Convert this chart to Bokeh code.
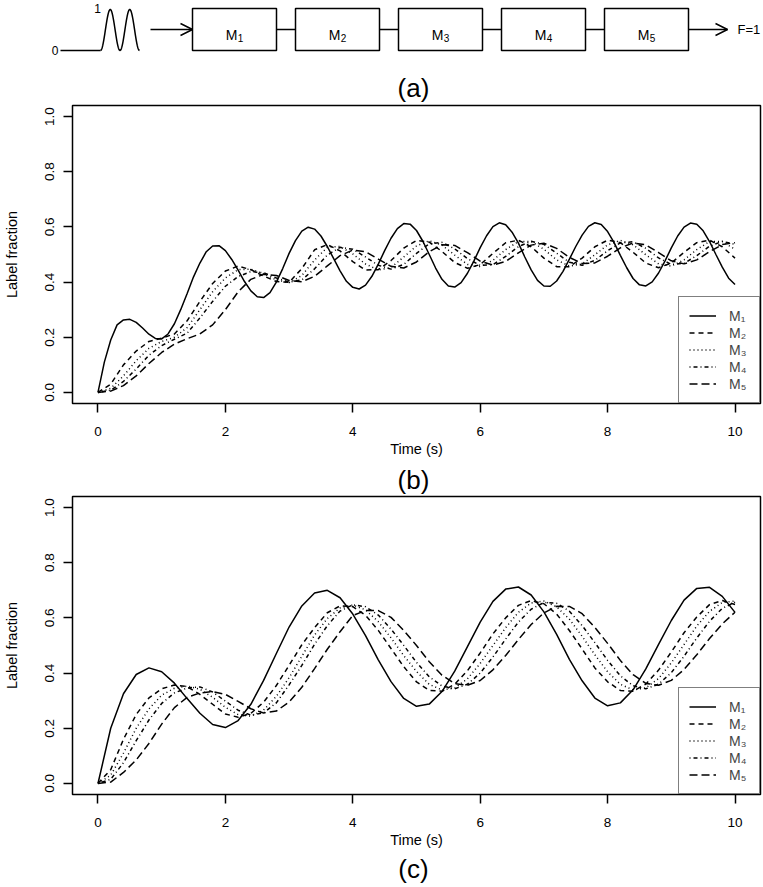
import numpy as np
from bokeh.plotting import figure
from bokeh.layouts import column
from bokeh.models import Range1d, FixedTicker, Legend, LegendItem, NumeralTickFormatter
from bokeh.embed import file_html
from bokeh.resources import INLINE
from bokeh.core.properties import value

FONT = "Liberation Sans"

# ---------------- data ----------------
time_fine = np.round(np.arange(0, 101) * 0.1, 1)   # sampling of M1 in panel (b)
time = np.round(np.arange(0, 51) * 0.2, 1)         # sampling of all other curves

b_M1 = [0, 0.11, 0.19, 0.245, 0.263, 0.265, 0.254, 0.2335, 0.211, 0.196,
        0.194, 0.212, 0.249, 0.301, 0.359, 0.419, 0.469, 0.51, 0.531, 0.532,
        0.514, 0.482, 0.443, 0.402, 0.368, 0.347, 0.344, 0.362, 0.40, 0.449,
        0.504, 0.55, 0.585, 0.599, 0.592, 0.567, 0.529, 0.485, 0.441, 0.403,
        0.381, 0.375, 0.389, 0.421, 0.465, 0.514, 0.559, 0.594, 0.612, 0.610,
        0.587, 0.548, 0.500, 0.451, 0.410, 0.386, 0.382, 0.398, 0.432, 0.476,
        0.525, 0.568, 0.601, 0.615, 0.608, 0.581, 0.541, 0.491, 0.444, 0.406,
        0.386, 0.385, 0.404, 0.439, 0.483, 0.529, 0.570, 0.602, 0.615, 0.609,
        0.583, 0.544, 0.497, 0.452, 0.413, 0.390, 0.386, 0.401, 0.433, 0.476,
        0.524, 0.567, 0.599, 0.614, 0.610, 0.586, 0.547, 0.500, 0.454, 0.414,
        0.391]
b_M2 = [0, 0.03, 0.10, 0.15, 0.185, 0.197, 0.212, 0.26, 0.33, 0.395,
        0.44, 0.458, 0.445, 0.422, 0.402, 0.399, 0.449, 0.517, 0.536, 0.513,
        0.474, 0.444, 0.445, 0.478, 0.523, 0.551, 0.545, 0.511, 0.471, 0.450,
        0.4635, 0.504, 0.5425, 0.552, 0.528, 0.487, 0.456, 0.456, 0.487, 0.528,
        0.552, 0.543, 0.508, 0.469, 0.452, 0.469, 0.508, 0.543, 0.552, 0.528,
        0.487]
b_M3 = [0, 0.015, 0.06, 0.115, 0.16, 0.185, 0.20, 0.235, 0.30, 0.365,
        0.415, 0.445, 0.447, 0.430, 0.408, 0.398, 0.424, 0.480, 0.526, 0.529,
        0.502, 0.4655, 0.444, 0.453, 0.491, 0.531, 0.55, 0.534, 0.498, 0.464,
        0.456, 0.479, 0.518, 0.547, 0.547, 0.519, 0.4805, 0.458, 0.466, 0.499,
        0.535, 0.551, 0.5355, 0.499, 0.466, 0.458, 0.4805, 0.518, 0.547, 0.547,
        0.519]
b_M4 = [0, 0.008, 0.04, 0.085, 0.135, 0.17, 0.193, 0.215, 0.27, 0.33,
        0.385, 0.42, 0.438, 0.434, 0.415, 0.400, 0.408, 0.448, 0.498, 0.526,
        0.519, 0.491, 0.461, 0.447, 0.464, 0.504, 0.539, 0.544, 0.5205, 0.485,
        0.4605, 0.4636, 0.493, 0.5285, 0.548, 0.537, 0.5045, 0.472, 0.461, 0.479,
        0.5135, 0.542, 0.546, 0.5225, 0.4875, 0.464, 0.468, 0.496, 0.530, 0.5477,
        0.537]
b_M5 = [0, 0.005, 0.025, 0.06, 0.105, 0.145, 0.175, 0.195, 0.212, 0.245,
        0.30, 0.365, 0.41, 0.428, 0.424, 0.406, 0.401, 0.421, 0.4585, 0.496,
        0.516, 0.51, 0.4835, 0.457, 0.451, 0.473, 0.51, 0.5355, 0.533, 0.5066,
        0.4756, 0.462, 0.475, 0.506, 0.534, 0.541, 0.522, 0.4896, 0.4673, 0.4696,
        0.4937, 0.524, 0.542, 0.535, 0.507, 0.477, 0.466, 0.4806, 0.51, 0.536,
        0.543]

c_M1 = [0, 0.20, 0.325, 0.395, 0.419, 0.405, 0.3635, 0.3075, 0.2545, 0.2135,
        0.2025, 0.228, 0.287, 0.3735, 0.471, 0.567, 0.6435, 0.690, 0.700, 0.673,
        0.614, 0.536, 0.448, 0.369, 0.308, 0.2795, 0.2876, 0.333, 0.407, 0.496,
        0.585, 0.660, 0.7044, 0.712, 0.683, 0.622, 0.540, 0.450, 0.372, 0.3096,
        0.2813, 0.292, 0.3395, 0.415, 0.504, 0.5906, 0.6646, 0.707, 0.711, 0.678,
        0.62]
c_M2 = [0, 0.05, 0.16, 0.25, 0.31, 0.343, 0.357, 0.351, 0.3225, 0.287,
        0.2518, 0.24, 0.254, 0.2944, 0.355, 0.428, 0.5027, 0.5648, 0.6188, 0.6436,
        0.6407, 0.6093, 0.555, 0.489, 0.4231, 0.3681, 0.3373, 0.3343, 0.3598, 0.4088,
        0.473, 0.5422, 0.6001, 0.6455, 0.663, 0.6514, 0.614, 0.5544, 0.4872, 0.4187,
        0.3684, 0.3373, 0.3343, 0.3601, 0.4108, 0.4763, 0.5462, 0.6034, 0.6481, 0.663,
        0.6488]
c_M3 = [0, 0.03, 0.11, 0.20, 0.27, 0.32, 0.345, 0.353, 0.3415, 0.3123,
        0.276, 0.2496, 0.2438, 0.266, 0.3157, 0.3832, 0.4608, 0.538, 0.5977, 0.636,
        0.6467, 0.6291, 0.5864, 0.5277, 0.4632, 0.406, 0.359, 0.3389, 0.3459, 0.3795,
        0.4352, 0.50, 0.5648, 0.6205, 0.6542, 0.661, 0.6403, 0.5953, 0.5334, 0.4663,
        0.4047, 0.3594, 0.339, 0.3461, 0.3804, 0.4371, 0.5036, 0.5706, 0.6238, 0.6558,
        0.661]
c_M4 = [0, 0.015, 0.075, 0.155, 0.23, 0.29, 0.328, 0.346, 0.35, 0.3315,
        0.2985, 0.2654, 0.2478, 0.2558, 0.2923, 0.3573, 0.4278, 0.5044, 0.5718, 0.6247,
        0.6472, 0.6407, 0.6102, 0.5596, 0.5004, 0.4388, 0.3866, 0.3534, 0.343, 0.3594,
        0.40, 0.4583, 0.5235, 0.5849, 0.6315, 0.6558, 0.653, 0.6243, 0.5723, 0.5103,
        0.446, 0.3903, 0.354, 0.343, 0.36, 0.4016, 0.4611, 0.5273, 0.5878, 0.6347,
        0.6567]
c_M5 = [0, 0.005, 0.04, 0.085, 0.145, 0.215, 0.275, 0.312, 0.328, 0.333,
        0.3229, 0.2975, 0.2708, 0.2556, 0.2625, 0.2951, 0.3488, 0.4163, 0.4864, 0.5501,
        0.6089, 0.6266, 0.6267, 0.602, 0.5547, 0.4999, 0.4413, 0.3921, 0.3622, 0.3559,
        0.373, 0.4118, 0.4638, 0.5218, 0.576, 0.618, 0.6421, 0.6415, 0.6154, 0.5655,
        0.5078, 0.446, 0.3942, 0.3625, 0.3559, 0.3736, 0.413, 0.4664, 0.5252, 0.5783,
        0.6206]

series_names = ["M\u2081", "M\u2082", "M\u2083", "M\u2084", "M\u2085"]
box_names = ["1", "2", "3", "4", "5"]
x_ticks = [0, 2, 4, 6, 8, 10]
y_ticks = [0.0, 0.2, 0.4, 0.6, 0.8, 1.0]
x_title = "Time (s)"
y_title = "Label fraction"
panel_tags = ["(a)", "(b)", "(c)"]

# ---------------- styles ----------------
DASHES = ["solid", "5 4", "1 3", "1 3 4 3", "8 4"]
LW = 1.5
W = 763


def no_align(p):
    try:
        p.frame_align = False
    except AttributeError:
        pass


def strip(height):
    """A blank figure whose data coordinates are its own pixels (y downward)."""
    s = figure(width=W, height=height, x_range=Range1d(0, W), y_range=Range1d(height, 0),
               x_axis_type=None, y_axis_type=None, toolbar_location=None, output_backend="svg",
               min_border_left=0, min_border_right=0, min_border_top=0, min_border_bottom=0)
    s.grid.visible = False
    s.outline_line_color = None
    no_align(s)
    return s


def tag(text, height, y):
    s = strip(height)
    s.text(x=[413], y=[y], text=[text], text_font=value(FONT), text_font_size="26px",
           text_align="center", text_baseline="middle")
    return s


def panel(height, top, bottom, times, ys):
    p = figure(width=W, height=height, x_range=Range1d(-0.4, 10.4), y_range=Range1d(-0.04, 1.04),
               toolbar_location=None, output_backend="svg",
               min_border_left=69, min_border_right=3, min_border_top=top, min_border_bottom=bottom)
    p.grid.visible = False
    p.outline_line_color = "black"
    p.outline_line_width = LW
    p.background_fill_color = "white"
    p.border_fill_color = "white"
    for ax in (p.xaxis[0], p.yaxis[0]):
        ax.axis_line_color = None
        ax.major_tick_line_color = "black"
        ax.major_tick_line_width = LW
        ax.major_tick_out = 9
        ax.major_tick_in = 0
        ax.minor_tick_line_color = None
        ax.major_label_text_font = FONT
        ax.major_label_text_font_size = "13.5px"
        ax.major_label_text_color = "black"
        ax.axis_label_text_font = FONT
        ax.axis_label_text_font_size = "14.5px"
        ax.axis_label_text_font_style = "normal"
        ax.axis_label_text_color = "black"
    p.xaxis.ticker = FixedTicker(ticks=x_ticks)
    p.yaxis.ticker = FixedTicker(ticks=y_ticks)
    p.yaxis.formatter = NumeralTickFormatter(format="0.0")
    p.yaxis.major_label_orientation = "vertical"
    p.xaxis.major_label_standoff = 14
    p.yaxis.major_label_standoff = 9
    p.xaxis.axis_label = x_title
    p.yaxis.axis_label = y_title
    p.xaxis.axis_label_standoff = 2
    p.yaxis.axis_label_standoff = 23

    items = []
    for name, t, y, dash in zip(series_names, times, ys, DASHES):
        r = p.line(t, y, line_color="black", line_width=LW, line_dash=dash)
        items.append(LegendItem(label=name, renderers=[r]))
    leg = Legend(items=items, location="bottom_right", margin=0, padding=10, spacing=0,
                 label_height=17, glyph_height=17, glyph_width=27, label_standoff=13,
                 label_text_font=FONT, label_text_font_size="14px",
                 border_line_color="black", border_line_width=LW,
                 background_fill_color="white", background_fill_alpha=1.0)
    p.add_layout(leg)
    return p


# ---------------- diagram (a) ----------------
fa = strip(103)
box_left0, box_step, box_w, box_top, box_bot, mid_y = 192, 103, 84, 8, 50, 29
lefts = [box_left0 + i * box_step for i in range(5)]
rights = [l + box_w for l in lefts]
fa.quad(left=lefts, right=rights, top=box_top, bottom=box_bot, fill_color="white",
        line_color="black", line_width=LW)
fa.segment(x0=rights[:-1], y0=mid_y, x1=lefts[1:], y1=mid_y, line_color="black", line_width=LW)
centers = [(l + r) / 2 for l, r in zip(lefts, rights)]
fa.text(x=[c + 2.8 for c in centers], y=box_bot - 16, text=["M"] * 5, text_font=value(FONT),
        text_font_size="14px", text_align="right", text_baseline="alphabetic")
fa.text(x=[c + 3.3 for c in centers], y=box_bot - 13, text=box_names, text_font=value(FONT),
        text_font_size="10px", text_align="left", text_baseline="alphabetic")

# input signal icon
base_y, top_y = box_bot, box_top + 1
fa.line(x=[60, 100], y=[base_y, base_y], line_color="black", line_width=LW)
xs_icon = np.linspace(100, 139, 120)
ys_icon = base_y - (base_y - top_y) * (1 - np.cos(2 * np.pi * (xs_icon - 100) / 19.5)) / 2
fa.line(x=xs_icon, y=ys_icon, line_color="black", line_width=LW)
fa.text(x=[58, 97], y=[base_y - 0.5, top_y - 1.5], text=["0", "1"], text_font=value(FONT),
        text_font_size="12px", text_align=["right", "center"], text_baseline="middle")

# arrows
fa.segment(x0=[150, rights[-1]], y0=mid_y, x1=[lefts[0], 727], y1=mid_y, line_color="black", line_width=LW)
fa.multi_line(xs=[[lefts[0] - 12, lefts[0], lefts[0] - 12], [715, 727, 715]],
              ys=[[mid_y - 6, mid_y, mid_y + 6]] * 2, line_color="black", line_width=LW)
fa.text(x=[737], y=[mid_y], text=["F=1"], text_font=value(FONT), text_font_size="13px",
        text_align="left", text_baseline="middle")
fa.text(x=[413], y=[87.5], text=[panel_tags[0]], text_font=value(FONT), text_font_size="26px",
        text_align="center", text_baseline="middle")

# ---------------- panels (b) and (c) ----------------
fb = panel(359, 2, 59, [time_fine, time, time, time, time], [b_M1, b_M2, b_M3, b_M4, b_M5])
sb = tag(panel_tags[1], 33, 17.5)
fc = panel(356, 1, 57, [time] * 5, [c_M1, c_M2, c_M3, c_M4, c_M5])
sc = tag(panel_tags[2], 36, 17.5)

layout = column(fa, fb, sb, fc, sc, spacing=0)
open("out.html", "w").write(file_html(layout, INLINE))
